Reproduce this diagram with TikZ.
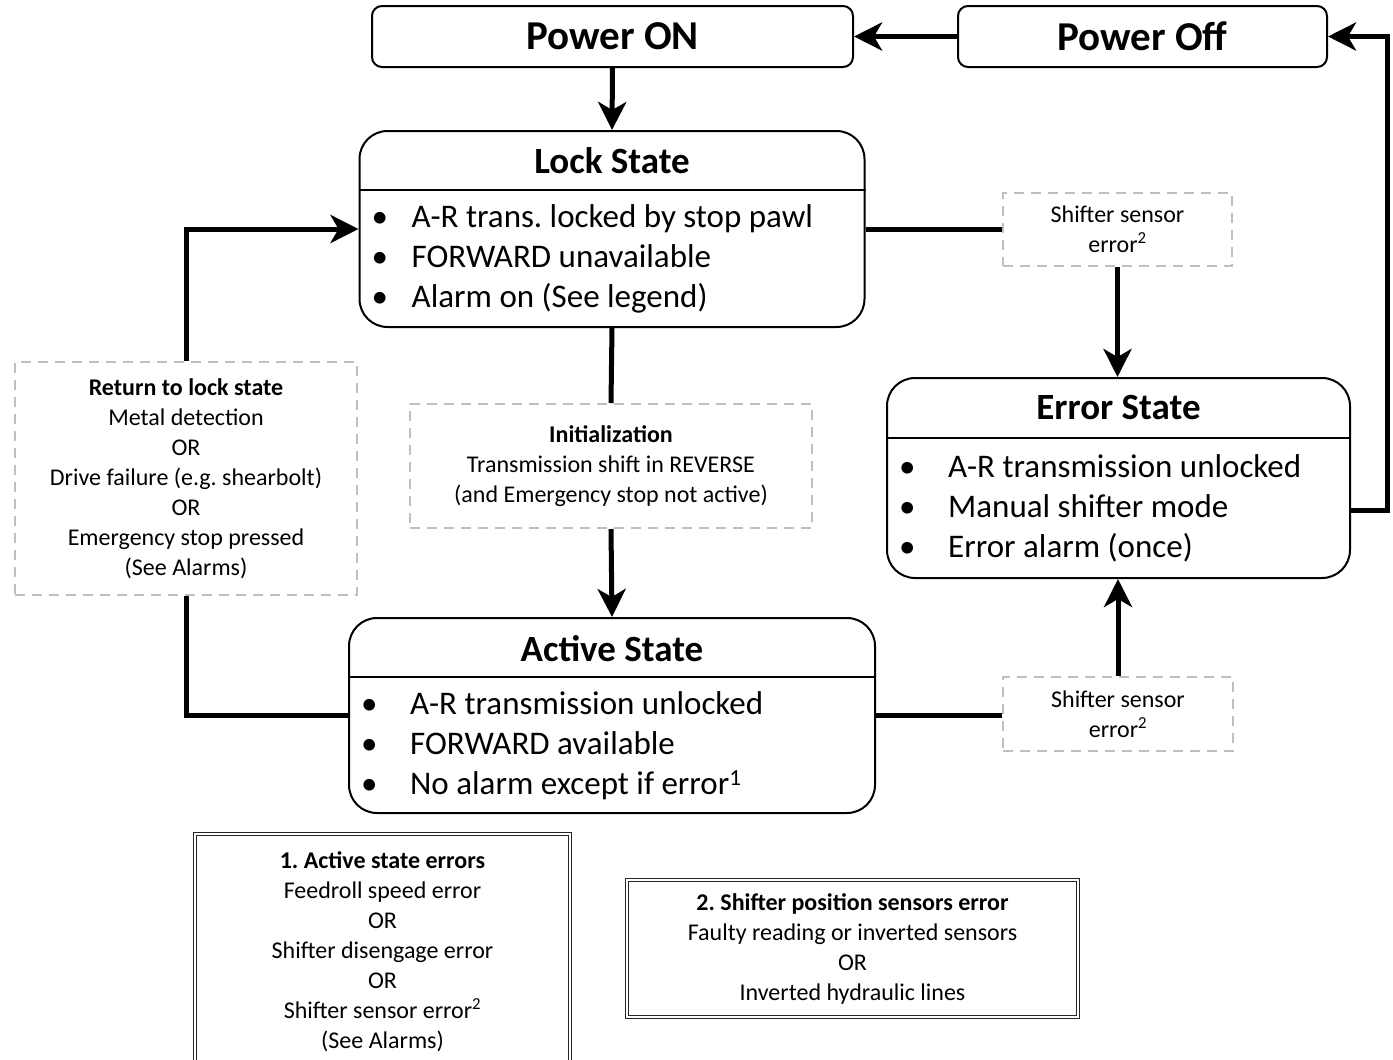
\documentclass[tikz,border=0pt]{standalone}
\usepackage{fontspec}
\setmainfont{Carlito}
\frenchspacing
\usetikzlibrary{positioning,arrows.meta}
\definecolor{dashgray}{HTML}{BFBFBF}
\newcommand{\smallfnt}{\fontsize{24}{30}\selectfont}
\newcommand{\bul}[1][49pt]{\makebox[#1][l]{\textbullet}}
\tikzset{
  powerbox/.style={draw,line width=2pt,rounded corners=10pt,minimum height=61pt,font=\fontsize{41}{48}\selectfont\bfseries},
  statebox/.style={draw,line width=2pt,rounded corners=28pt},
  statetitle/.style={font=\fontsize{37}{44}\selectfont\bfseries},
  bulletlist/.style={anchor=west,align=left,inner sep=0pt,font=\fontsize{33}{40}\selectfont},
  condbox/.style={draw=dashgray,line width=2pt,dash pattern=on 10pt off 7pt,align=center,font=\smallfnt},
  legendbox/.style={draw=black!85,double,double distance=2pt,line width=1.2pt,align=center,font=\smallfnt},
  conn/.style={line width=5pt},
  arr/.style={conn,-{Stealth[length=28pt,width=28pt,inset=8pt]}},
}

\begin{document}
\begin{tikzpicture}[x=1pt,y=-1pt]
\useasboundingbox (0,0) rectangle (1393,1060);

\node[powerbox,minimum width=481pt] (pon) at (612.5,36.5) {Power ON};
\node[powerbox,minimum width=369pt] (poff) at (1142.5,36.5) {Power Off};

\node[statebox,minimum width=505pt,minimum height=196pt] (lock) at (612,229) {};
\node[statetitle] (locktitle) at ([yshift=-31pt]lock.north) {Lock State};
\draw[line width=2pt] ([yshift=-60pt]lock.north west) -- ([yshift=-60pt]lock.north east);
\node[bulletlist] (locklist) at ([xshift=13pt,yshift=-129pt]lock.north west)
  {\bul[40pt]A-R trans. locked by stop pawl\\\bul[40pt]FORWARD unavailable\\\bul[40pt]Alarm on (See legend)};

\node[statebox,minimum width=526pt,minimum height=195pt] (act) at (612,715.5) {};
\node[statetitle] (acttitle) at ([yshift=-32pt]act.north) {Active State};
\draw[line width=2pt] ([yshift=-60pt]act.north west) -- ([yshift=-60pt]act.north east);
\node[bulletlist] (actlist) at ([xshift=13pt,yshift=-129pt]act.north west)
  {\bul A-R transmission unlocked\\\bul FORWARD available\\\bul No alarm except if error\textsuperscript{1}};

\node[statebox,minimum width=463pt,minimum height=200pt] (err) at (1118.5,478) {};
\node[statetitle] (errtitle) at ([yshift=-31pt]err.north) {Error State};
\draw[line width=2pt] ([yshift=-61pt]err.north west) -- ([yshift=-61pt]err.north east);
\node[bulletlist] (errlist) at ([xshift=13pt,yshift=-131pt]err.north west)
  {\bul A-R transmission unlocked\\\bul Manual shifter mode\\\bul Error alarm (once)};

\node[condbox,minimum width=229pt,minimum height=73pt] (shift1) at (1117.5,229.5)
  {Shifter sensor\\error\textsuperscript{2}};
\node[condbox,minimum width=230pt,minimum height=74pt] (shift2) at (1118,714)
  {Shifter sensor\\error\textsuperscript{2}};
\node[condbox,minimum width=342pt,minimum height=233pt] (ret) at (186,478.5)
  {\textbf{Return to lock state}\\Metal detection\\OR\\Drive failure (e.g. shearbolt)\\OR\\Emergency stop pressed\\(See Alarms)};
\node[condbox,minimum width=402pt,minimum height=124pt] (init) at (611,466)
  {\textbf{Initialization}\\Transmission shift in REVERSE\\(and Emergency stop not active)};

\node[legendbox,minimum width=375pt,minimum height=236pt] (leg1) at (382.5,952)
  {\textbf{1. Active state errors}\\Feedroll speed error\\OR\\Shifter disengage error\\OR\\Shifter sensor error\textsuperscript{2}\\(See Alarms)};
\node[legendbox,minimum width=451pt,minimum height=137pt] (leg2) at (852.5,948.5)
  {\textbf{2. Shifter position sensors error}\\Faulty reading or inverted sensors\\OR\\Inverted hydraulic lines};

\coordinate (errout) at ([yshift=-32pt]err.east);

\draw[arr] (pon.south) -- (lock.north);
\draw[arr] (poff.west) -- (pon.east);
\draw[arr] (errout) -- ++(36,0) |- (poff.east);
\draw[conn] (lock.south) -- (init.north);
\draw[arr] (init.south) -- (act.north);
\draw[conn] (lock.east) -- (lock.east -| shift1.west);
\draw[arr] (shift1.south) -- (shift1.south |- err.north);
\draw[conn] (act.east) -- (act.east -| shift2.west);
\draw[arr] (shift2.north) -- (shift2.north |- err.south);
\draw[conn] (act.west) -| (ret.south);
\draw[arr] (ret.north) |- (lock.west);
\end{tikzpicture}
\end{document}
